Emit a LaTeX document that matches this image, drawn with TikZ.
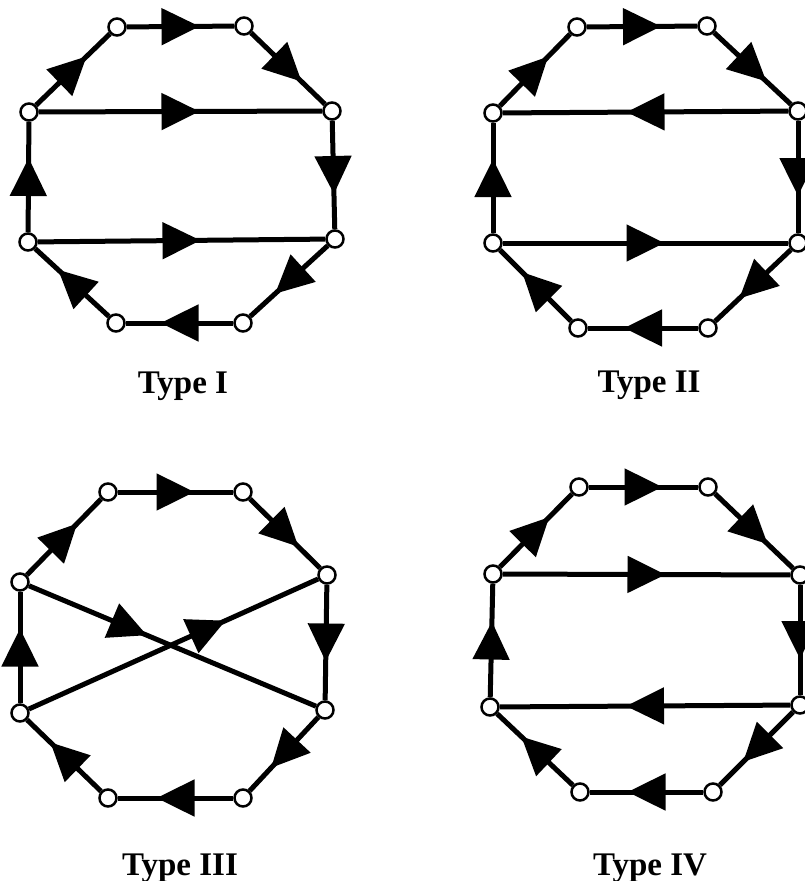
\documentclass[tikz,border=0pt]{standalone}
\usepackage{fontspec}
\setmainfont{Liberation Serif}
\usetikzlibrary{arrows.meta,decorations.markings}
\tikzset{
  vtx/.style={circle, draw, fill=white, line width=2.5pt, minimum size=17pt, inner sep=0pt},
  darr/.style={line width=5pt, postaction={decorate},
    decoration={markings, mark=at position #1 with {\arrow[xshift=19pt]{Triangle[length=38pt,width=36pt]}}}},
  darr/.default=0.5,
  lbl/.style={anchor=base, font=\fontsize{33}{36}\selectfont\bfseries},
}
\begin{document}
\begin{tikzpicture}[x=1pt,y=-1pt]
\useasboundingbox (0,0) rectangle (805,881);
\clip (0,0) rectangle (805,881);
% ---------- Type I ----------
\node[vtx] (a1) at (117,27) {};
\node[vtx] (a2) at (244,26) {};
\node[vtx] (a3) at (332,111) {};
\node[vtx] (a4) at (335,239) {};
\node[vtx] (a5) at (243,323) {};
\node[vtx] (a6) at (116,323) {};
\node[vtx] (a7) at (28,242) {};
\node[vtx] (a8) at (29,112) {};
\draw[darr] (a1) -- (a2);
\draw[darr] (a2) -- (a3);
\draw[darr] (a3) -- (a4);
\draw[darr] (a4) -- (a5);
\draw[darr] (a5) -- (a6);
\draw[darr] (a6) -- (a7);
\draw[darr] (a7) -- (a8);
\draw[darr] (a8) -- (a1);
\draw[darr] (a8) -- (a3);
\draw[darr] (a7) -- (a4);
\node[lbl] (l1) at (183,393) {Type I};
% ---------- Type II ----------
\node[vtx] (b1) at (577,27) {};
\node[vtx] (b2) at (707,26) {};
\node[vtx] (b3) at (798,111) {};
\node[vtx] (b4) at (798,243) {};
\node[vtx] (b5) at (708,328) {};
\node[vtx] (b6) at (578,328) {};
\node[vtx] (b7) at (493,243) {};
\node[vtx] (b8) at (493,113) {};
\draw[darr] (b1) -- (b2);
\draw[darr] (b2) -- (b3);
\draw[darr] (b3) -- (b4);
\draw[darr] (b4) -- (b5);
\draw[darr] (b5) -- (b6);
\draw[darr] (b6) -- (b7);
\draw[darr] (b7) -- (b8);
\draw[darr] (b8) -- (b1);
\draw[darr] (b3) -- (b8);
\draw[darr] (b7) -- (b4);
\node[lbl] (l2) at (649,392) {Type II};
% ---------- Type III ----------
\node[vtx] (c1) at (108,492) {};
\node[vtx] (c2) at (243,492) {};
\node[vtx] (c3) at (327,575) {};
\node[vtx] (c4) at (325,710) {};
\node[vtx] (c5) at (243,798) {};
\node[vtx] (c6) at (108,798) {};
\node[vtx] (c7) at (20,713) {};
\node[vtx] (c8) at (20,582) {};
\draw[darr] (c1) -- (c2);
\draw[darr] (c2) -- (c3);
\draw[darr] (c3) -- (c4);
\draw[darr] (c4) -- (c5);
\draw[darr] (c5) -- (c6);
\draw[darr] (c6) -- (c7);
\draw[darr] (c7) -- (c8);
\draw[darr] (c8) -- (c1);
\draw[darr=0.35] (c8) -- (c4);
\draw[darr=0.62] (c7) -- (c3);
\node[lbl] (l3) at (180,875) {Type III};
% ---------- Type IV ----------
\node[vtx] (d1) at (579,487) {};
\node[vtx] (d2) at (708,487) {};
\node[vtx] (d3) at (800,575) {};
\node[vtx] (d4) at (800,705) {};
\node[vtx] (d5) at (713,792) {};
\node[vtx] (d6) at (580,792) {};
\node[vtx] (d7) at (490,707) {};
\node[vtx] (d8) at (493,574) {};
\draw[darr] (d1) -- (d2);
\draw[darr] (d2) -- (d3);
\draw[darr] (d3) -- (d4);
\draw[darr] (d4) -- (d5);
\draw[darr] (d5) -- (d6);
\draw[darr] (d6) -- (d7);
\draw[darr] (d7) -- (d8);
\draw[darr] (d8) -- (d1);
\draw[darr] (d8) -- (d3);
\draw[darr] (d4) -- (d7);
\node[lbl] (l4) at (650,875) {Type IV};
\end{tikzpicture}
\end{document}
